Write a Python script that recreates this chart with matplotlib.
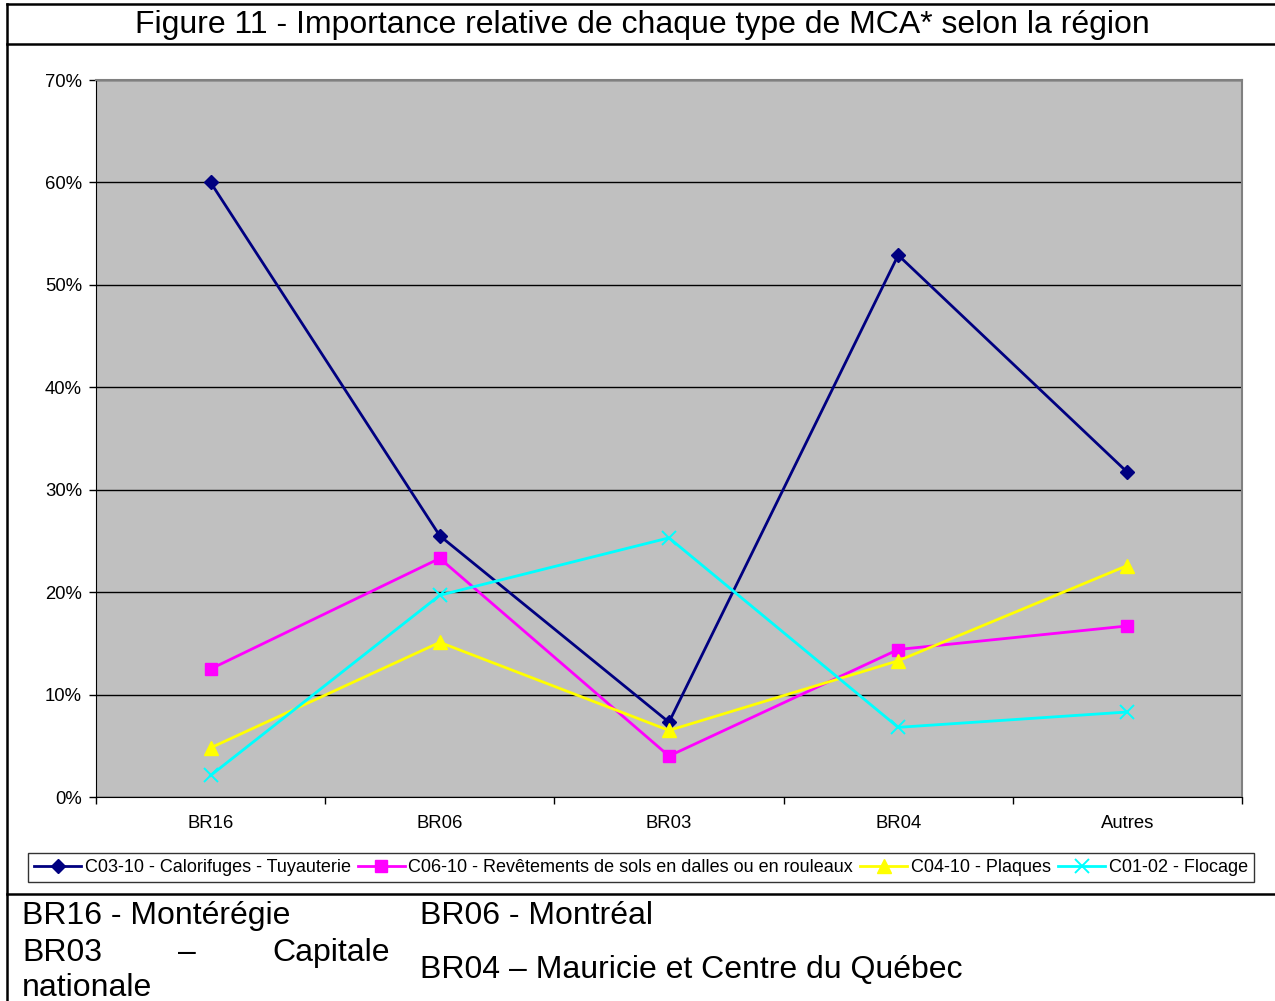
import matplotlib.pyplot as plt
from matplotlib.lines import Line2D
from matplotlib.ticker import PercentFormatter

plt.rcParams['font.family'] = ['Liberation Sans', 'DejaVu Sans']

regions = ['BR16', 'BR06', 'BR03', 'BR04', 'Autres']
calorifuges = [0.600, 0.255, 0.073, 0.529, 0.317]
revetements = [0.125, 0.233, 0.040, 0.144, 0.167]
plaques = [0.048, 0.151, 0.065, 0.133, 0.226]
flocage = [0.021, 0.197, 0.253, 0.068, 0.083]

series_names = ['C03-10 - Calorifuges - Tuyauterie',
                'C06-10 - Revêtements de sols en dalles ou en rouleaux',
                'C04-10 - Plaques',
                'C01-02 - Flocage']

W, H = 1275, 1001
fig = plt.figure(figsize=(W / 100, H / 100), dpi=100)

# plot area in pixels: x 96..1242, y 80..797
ax = fig.add_axes([96 / W, 1 - 797 / H, (1242 - 96) / W, (797 - 80) / H])
ax.set_facecolor('#C0C0C0')

x = list(range(len(regions)))
ax.plot(x, calorifuges, color='#000080', lw=2, marker='D', ms=7.5, label=series_names[0], zorder=3)
ax.plot(x, revetements, color='#FF00FF', lw=2, marker='s', ms=9, label=series_names[1], zorder=3)
ax.plot(x, plaques, color='#FFFF00', lw=2, marker='^', ms=10, label=series_names[2], zorder=3)
ax.plot(x, flocage, color='#00FFFF', lw=2, marker='x', ms=10, mew=1.4, label=series_names[3], zorder=3)

ax.set_xlim(-0.5, len(regions) - 0.5)
ax.set_ylim(0, 0.70)
ax.set_yticks([i / 10 for i in range(8)])
ax.yaxis.set_major_formatter(PercentFormatter(1.0, decimals=0))
ax.yaxis.grid(True, color='black', lw=1)
ax.set_axisbelow(True)

ax.set_xticks(x)
ax.set_xticklabels(regions)
ax.set_xticks([i - 0.5 for i in range(len(regions) + 1)], minor=True)
ax.tick_params(axis='x', which='major', length=0, pad=13, labelsize=13.3)
ax.tick_params(axis='x', which='minor', length=5, width=1, direction='out')
ax.tick_params(axis='y', length=5, width=1, labelsize=13.3, pad=5)

for s in ['top', 'right']:
    ax.spines[s].set_color('#808080')
    ax.spines[s].set_linewidth(1.5)
ax.spines['left'].set_color('black')
ax.spines['bottom'].set_color('black')

leg = fig.legend(loc='center', bbox_to_anchor=(641 / W, 1 - 867.5 / H), ncol=4,
                 fontsize=13, frameon=True, fancybox=False, edgecolor='black',
                 handlelength=2.6, handletextpad=0.2, columnspacing=0.4,
                 borderpad=0.35, borderaxespad=0)
leg.get_frame().set_linewidth(1)

# title and frame
fig.text(642 / W, 1 - 25 / H, 'Figure 11 - Importance relative de chaque type de MCA* selon la région',
         ha='center', va='center', fontsize=23)
for yy in [4, 44, 894]:
    fig.add_artist(Line2D([7 / W, 1], [1 - yy / H, 1 - yy / H], color='black', lw=1.8,
                          transform=fig.transFigure))
fig.add_artist(Line2D([7 / W, 7 / W], [0, 1 - 4 / H], color='black', lw=1.8,
                      transform=fig.transFigure))

# legend of regions below
fs = 23
fig.text(22 / W, 1 - 916 / H, 'BR16 - Montérégie', ha='left', va='center', fontsize=fs)
fig.text(420 / W, 1 - 916 / H, 'BR06 - Montréal', ha='left', va='center', fontsize=fs)
fig.text(22 / W, 1 - 953 / H, 'BR03', ha='left', va='center', fontsize=fs)
fig.text(187 / W, 1 - 953 / H, '–', ha='center', va='center', fontsize=fs)
fig.text(390 / W, 1 - 953 / H, 'Capitale', ha='right', va='center', fontsize=fs)
fig.text(22 / W, 1 - 988 / H, 'nationale', ha='left', va='center', fontsize=fs)
fig.text(420 / W, 1 - 970 / H, 'BR04 – Mauricie et Centre du Québec', ha='left', va='center', fontsize=fs)

fig.savefig('out.png', dpi=100)
